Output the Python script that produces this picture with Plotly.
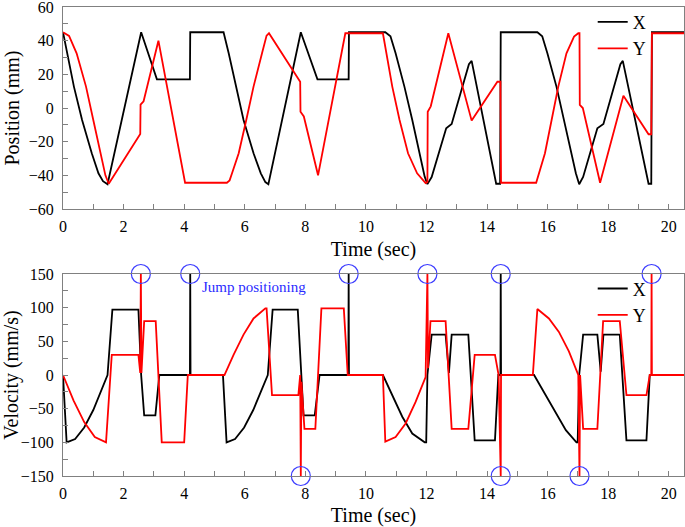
import plotly.graph_objects as go

# ---------------- data ----------------
# Position of X axis (black), time in sec / mm
pos_x_t = [0, 0.14, 0.36, 0.63, 0.95, 1.17, 1.32, 1.47, 2.58, 3.1, 4.19, 4.2,
           5.3, 5.47, 5.71, 5.96, 6.29, 6.53, 6.68, 6.78, 7.85, 8.4, 9.43, 9.44,
           10.64, 10.81, 10.98, 11.27, 11.53, 11.78, 11.94, 12.03, 12.17, 12.65, 12.75, 12.83,
           13.4, 13.49, 14.3, 14.43, 14.45,
           15.66, 15.82, 15.99, 16.29, 16.54, 16.79, 16.93, 17.04, 17.17, 17.64, 17.74, 17.84,
           18.4, 18.48, 19.33, 19.42, 19.44, 20.5]
pos_x = [45, 32.5, 12.7, -7.1, -26.9, -38.8, -43.5, -45.3, 45, 17, 17, 45,
         45, 32.5, 12.7, -7.1, -26.9, -38.8, -44, -45.3, 45, 17, 17, 45,
         45, 42.6, 32.5, 12.7, -7.1, -26.9, -40.8, -45.2, -41, -12, -10.8, -9.5,
         26, 28, -45, -45, 45,
         45, 42.6, 32.5, 12.7, -7.1, -26.9, -38.8, -45.3, -41, -12, -10.8, -9.5,
         26, 28, -45, -45, 45, 45]

# Position of Y axis (red)
pos_y_t = [0, 0.2, 0.45, 0.76, 1.0, 1.25, 1.4, 1.51, 2.55, 2.56, 2.66, 3.15, 4.03,
           5.41, 5.5, 5.58, 5.8, 6.05, 6.29, 6.57, 6.72, 6.8, 7.83, 7.84, 7.95, 8.42,
           9.32, 10.56, 10.68, 10.87, 11.11, 11.39, 11.69, 11.97, 12.03, 12.04, 12.14,
           12.72, 13.49, 14.34, 14.44, 14.46, 15.62, 15.91, 16.13, 16.35, 16.62,
           16.87, 17.01, 17.05, 17.06, 17.16, 17.73, 18.5, 19.33, 19.42, 19.44, 20.5]
pos_y = [45, 42.8, 32.5, 12.7, -7.1, -26.9, -40, -45, -15.5, 2, 4, 40, -44.4,
         -44.4, -43, -38.8, -26.9, -7.1, 12.7, 32.5, 43, 44.4, 15.6, -2.2, -5, -40,
         44.4, 44.4, 32.5, 12.7, -7.1, -26.9, -38.8, -44.6, -44, -2.2, 1,
         44.4, -7.5, 15.6, 15.6, -44.4, -44.4, -26.9, -7.1, 12.7, 32.5,
         42.4, 44.4, 44.4, 1.8, 0, -44.4, 7.3, -15.6, -15.6, 44.4, 44.4]

# Velocity of X axis (black), mm/s
vel_x_t = [0, 0.12, 0.4, 0.7, 1.0, 1.25, 1.47, 1.63, 2.49, 2.58, 2.68, 3.05, 3.18,
           4.19, 4.2, 4.21, 5.28, 5.4, 5.68, 5.98, 6.28, 6.53, 6.76, 6.92, 7.75,
           7.94, 8.31, 8.47, 9.42, 9.43, 9.44, 10.56, 10.87, 11.2, 11.53, 11.94,
           11.99, 12.03, 12.17, 12.63, 12.74, 12.83, 13.38, 13.59, 14.26, 14.37,
           14.44, 14.45, 14.46, 15.55, 15.93, 16.26, 16.6, 16.95, 16.99, 17.04,
           17.17, 17.64, 17.75, 17.84, 18.38, 18.6, 19.26, 19.37, 20.5]
vel_x = [0, -100, -95, -78, -52, -25, 0, 97, 97, 0, -60, -60, 0,
         0, 150, 0, 0, -100, -95, -78, -52, -25, 0, 97, 97,
         -60, -60, 0, 0, 150, 0, 0, -30, -62, -87, -100,
         -100, 0, 60, 60, 3, 60, 60, -97, -97, 0,
         0, 150, 0, 0, -30, -57, -82, -100, -100, 0,
         60, 60, 5, 60, 60, -97, -97, 0, 0]

# Velocity of Y axis (red)
vel_y_t = [0, 0.35, 0.7, 1.05, 1.42, 1.61, 2.49, 2.55, 2.57, 2.59, 2.68, 3.06,
           3.26, 4.0, 4.12, 5.33, 5.63, 5.96, 6.29, 6.68, 6.72, 6.9, 7.77, 7.83,
           7.85, 7.87, 7.97, 8.33, 8.53, 9.27, 9.4, 10.56, 10.64, 10.98, 11.31,
           11.64, 11.97, 12.03, 12.05, 12.13, 12.63, 12.83, 13.38, 13.59, 14.26,
           14.38, 14.45, 14.46, 15.51, 15.66, 16.04, 16.37, 16.7, 17.01, 17.05,
           17.07, 17.17, 17.64, 17.83, 18.38, 18.6, 19.26, 19.37, 19.42, 19.43,
           19.44, 20.5]
vel_y = [0, -38, -70, -92, -100, 30, 30, 3, 150, 3, 80, 80,
         -100, -100, 0, 0, 30, 60, 84, 99, 99, -30, -30, 0,
         -150, -10, -80, -80, 99, 99, 0, 0, -99, -92, -72,
         -40, -3, 150, 10, 80, 80, -80, -80, 30, 30,
         0, -150, 0, 0, 98, 84, 64, 35, 0, -150,
         0, -80, -80, 80, 80, -30, -30, 0, 0, 150,
         0, 0]

# Jump-positioning markers (circles)
jump_t = [2.57, 4.2, 9.43, 12.03, 14.45, 19.43, 7.85, 14.45, 17.05]
jump_v = [150, 150, 150, 150, 150, 150, -150, -150, -150]

x_ticks = list(range(0, 21, 2))
pos_ticks = list(range(-60, 61, 20))
vel_ticks = list(range(-150, 151, 50))

# ---------------- figure ----------------
FONT = "Liberation Serif"
AX = "#808080"

fig = go.Figure()
fig.add_trace(go.Scatter(x=pos_x_t, y=pos_x, mode="lines", name="X",
                         line=dict(color="black", width=1.8),
                         xaxis="x", yaxis="y", legend="legend"))
fig.add_trace(go.Scatter(x=pos_y_t, y=pos_y, mode="lines", name="Y",
                         line=dict(color="#ff0000", width=1.8),
                         xaxis="x", yaxis="y", legend="legend"))
fig.add_trace(go.Scatter(x=vel_x_t, y=vel_x, mode="lines", name="X",
                         line=dict(color="black", width=1.8),
                         xaxis="x2", yaxis="y2", legend="legend2"))
fig.add_trace(go.Scatter(x=vel_y_t, y=vel_y, mode="lines", name="Y",
                         line=dict(color="#ff0000", width=1.8),
                         xaxis="x2", yaxis="y2", legend="legend2"))
fig.add_trace(go.Scatter(x=jump_t, y=jump_v, mode="markers", showlegend=False,
                         marker=dict(symbol="circle-open", size=19,
                                     color="#3b3bff", line=dict(width=1.2)),
                         cliponaxis=False, hoverinfo="skip",
                         xaxis="x2", yaxis="y2"))

def axstyle(**kw):
    d = dict(showline=True, linecolor=AX, linewidth=1, mirror=True,
             ticks="inside", ticklen=5, tickwidth=1, tickcolor=AX,
             showgrid=False, zeroline=False, automargin=False,
             ticklabeloverflow="allow",
             tickfont=dict(family=FONT, size=16, color="black"))
    d.update(kw)
    return d

title_font = dict(family=FONT, size=20, color="black")

fig.update_layout(
    width=685, height=527,
    margin=dict(l=63, r=1, t=7, b=51, autoexpand=False),
    plot_bgcolor="white", paper_bgcolor="white",
    font=dict(family=FONT, color="black"),
    xaxis=axstyle(domain=[0, 1], range=[0, 20.5], anchor="y",
                  tickvals=x_ticks, ticklabelstandoff=3,
                  minor=dict(dtick=1, tick0=0, ticks="inside", ticklen=5, tickcolor=AX),
                  title=dict(text="Time (sec)", font=title_font, standoff=7)),
    yaxis=axstyle(domain=[0.5693, 1], range=[-60, 60], anchor="x",
                  tickvals=pos_ticks, ticklabelstandoff=5,
                  minor=dict(dtick=10, tick0=0, ticks="inside", ticklen=5, tickcolor=AX),
                  title=dict(text="Position (mm)", font=title_font, standoff=3)),
    xaxis2=axstyle(domain=[0, 1], range=[0, 20.5], anchor="y2",
                   tickvals=x_ticks, ticklabelstandoff=3,
                   minor=dict(dtick=1, tick0=0, ticks="inside", ticklen=5, tickcolor=AX),
                   title=dict(text="Time (sec)", font=title_font, standoff=6)),
    yaxis2=axstyle(domain=[0, 0.4307], range=[-150, 150], anchor="x2",
                   tickvals=vel_ticks, ticklabelstandoff=5,
                   minor=dict(dtick=25, tick0=0, ticks="inside", ticklen=5, tickcolor=AX),
                   title=dict(text="Velocity (mm/s)", font=title_font, standoff=3)),
    legend=dict(x=0.853, y=1.007, xanchor="left", yanchor="top",
                bgcolor="rgba(0,0,0,0)", font=dict(family=FONT, size=18),
                tracegroupgap=0, itemclick=False),
    legend2=dict(x=0.853, y=0.4386, xanchor="left", yanchor="top",
                 bgcolor="rgba(0,0,0,0)", font=dict(family=FONT, size=18),
                 tracegroupgap=0, itemclick=False),
    annotations=[dict(text="Jump positioning", x=4.53, y=130, xref="x2", yref="y2",
                      xanchor="left", yanchor="middle", showarrow=False,
                      font=dict(family=FONT, size=15, color="#2b2bff"))],
)

fig.write_html("out.html", config={"displayModeBar": False},
               post_script="document.body.style.margin='0px';")
